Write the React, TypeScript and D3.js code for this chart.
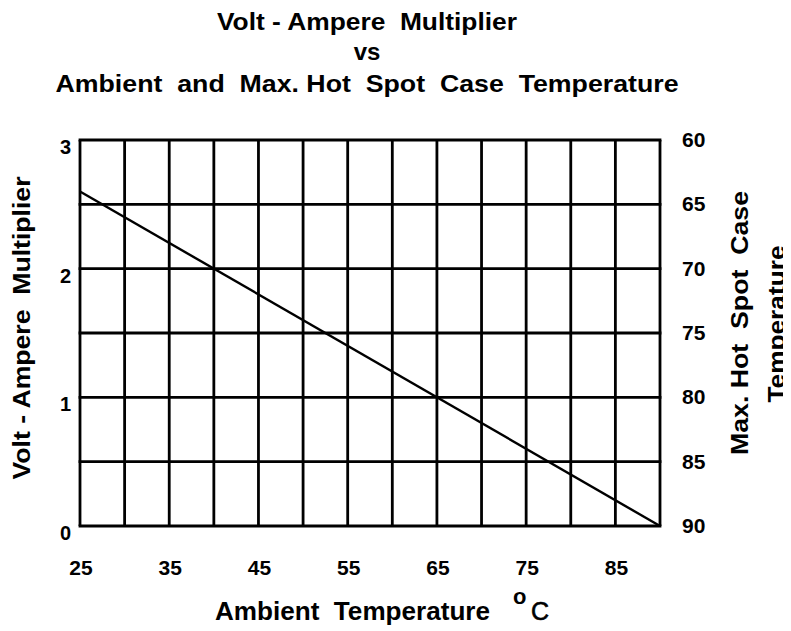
import React, { useRef, useEffect } from 'react';
import * as d3 from 'd3';

// ambient temperature grid (deg C) and the derating line end points
const ambientTicks = [25, 30, 35, 40, 45, 50, 55, 60, 65, 70, 75, 80, 85, 90];
const ambientLabels = [25, 35, 45, 55, 65, 75, 85];
const multiplierGrid = [0, 0.5, 1, 1.5, 2, 2.5, 3];
const multiplierLabels = [0, 1, 2, 3];
const caseTempLabels = [60, 65, 70, 75, 80, 85, 90];
const lineAmbient = [25, 90];
const lineMultiplier = [2.6, 0];

const titleLines = ['Volt - Ampere  Multiplier', 'vs', 'Ambient  and  Max. Hot  Spot  Case  Temperature'];

const App = () => {
  const ref = useRef<SVGSVGElement | null>(null);

  useEffect(() => {
    const width = 791;
    const height = 631;
    const font = '"Liberation Sans", Arial, Helvetica, sans-serif';

    const svg = d3.select(ref.current);
    svg.selectAll('*').remove();
    svg.attr('width', width).attr('height', height).style('background', '#fff');

    const x = d3.scaleLinear().domain([25, 90]).range([80, 660]);
    const y = d3.scaleLinear().domain([0, 3]).range([526, 140]);
    const yRight = d3.scaleLinear().domain([60, 90]).range([140, 526]);

    // title
    const titleX = 367;
    const titleBase = [30, 60, 92];
    const titleLen = [300, 0, 623];
    titleLines.forEach((t, i) => {
      const txt = svg.append('text')
        .attr('x', titleX)
        .attr('y', titleBase[i])
        .attr('text-anchor', 'middle')
        .attr('font-family', font)
        .attr('font-weight', 'bold')
        .attr('font-size', 24)
        .style('white-space', 'pre')
        .text(t);
      if (titleLen[i]) txt.attr('textLength', titleLen[i]).attr('lengthAdjust', 'spacingAndGlyphs');
    });

    // grid
    const g = svg.append('g');
    g.selectAll('.v')
      .data(ambientTicks)
      .enter()
      .append('line')
      .attr('x1', d => x(d)).attr('x2', d => x(d))
      .attr('y1', y(3)).attr('y2', y(0))
      .attr('stroke', '#000')
      .attr('stroke-width', 2.8);

    g.selectAll('.h')
      .data(multiplierGrid)
      .enter()
      .append('line')
      .attr('x1', x(25) - 1.4).attr('x2', x(90) + 1.4)
      .attr('y1', d => y(d)).attr('y2', d => y(d))
      .attr('stroke', '#000')
      .attr('stroke-width', 2.8);

    // derating line
    const pts = lineAmbient.map((a, i) => [a, lineMultiplier[i]] as [number, number]);
    svg.append('path')
      .datum(pts)
      .attr('d', d3.line<[number, number]>().x(d => x(d[0])).y(d => y(d[1])))
      .attr('fill', 'none')
      .attr('stroke', '#000')
      .attr('stroke-width', 2.4);

    // left labels
    svg.selectAll('.ly')
      .data(multiplierLabels)
      .enter()
      .append('text')
      .attr('x', 71)
      .attr('y', d => y(d) + 14)
      .attr('text-anchor', 'end')
      .attr('font-family', font)
      .attr('font-weight', 'bold')
      .attr('font-size', 20)
      .text(d => d);

    // right labels
    svg.selectAll('.ry')
      .data(caseTempLabels)
      .enter()
      .append('text')
      .attr('x', 682)
      .attr('y', d => yRight(d) + 7)
      .attr('font-family', font)
      .attr('font-weight', 'bold')
      .attr('font-size', 21)
      .text(d => d);

    // bottom labels
    svg.selectAll('.bx')
      .data(ambientLabels)
      .enter()
      .append('text')
      .attr('x', d => x(d) + 1)
      .attr('y', 575)
      .attr('text-anchor', 'middle')
      .attr('font-family', font)
      .attr('font-weight', 'bold')
      .attr('font-size', 21)
      .text(d => d);

    // axis titles
    svg.append('text')
      .attr('transform', 'translate(30,328) rotate(-90)')
      .attr('text-anchor', 'middle')
      .attr('font-family', font)
      .attr('font-weight', 'bold')
      .attr('font-size', 24)
      .attr('textLength', 303)
      .attr('lengthAdjust', 'spacingAndGlyphs')
      .style('white-space', 'pre')
      .text('Volt - Ampere  Multiplier');

    svg.append('text')
      .attr('transform', 'translate(748,323) rotate(-90)')
      .attr('text-anchor', 'middle')
      .attr('font-family', font)
      .attr('font-weight', 'bold')
      .attr('font-size', 24)
      .attr('textLength', 264)
      .attr('lengthAdjust', 'spacingAndGlyphs')
      .style('white-space', 'pre')
      .text('Max. Hot  Spot  Case');

    svg.append('text')
      .attr('transform', 'translate(785,324) rotate(-90)')
      .attr('text-anchor', 'middle')
      .attr('font-family', font)
      .attr('font-weight', 'bold')
      .attr('font-size', 24)
      .attr('textLength', 157)
      .attr('lengthAdjust', 'spacingAndGlyphs')
      .text('Temperature');

    svg.append('text')
      .attr('x', 215)
      .attr('y', 620)
      .attr('font-family', font)
      .attr('font-weight', 'bold')
      .attr('font-size', 25)
      .attr('textLength', 275)
      .attr('lengthAdjust', 'spacingAndGlyphs')
      .style('white-space', 'pre')
      .text('Ambient  Temperature');

    svg.append('text')
      .attr('x', 513)
      .attr('y', 604)
      .attr('font-family', font)
      .attr('font-weight', 'bold')
      .attr('font-size', 22)
      .text('o');

    svg.append('text')
      .attr('x', 531)
      .attr('y', 620)
      .attr('font-family', font)
      .attr('font-size', 25)
      .attr('stroke', '#000')
      .attr('stroke-width', 0.6)
      .text('C');
  }, []);

  return (
    <div style={{ margin: -8 }}>
      <svg ref={ref}></svg>
    </div>
  );
};

export default App;
